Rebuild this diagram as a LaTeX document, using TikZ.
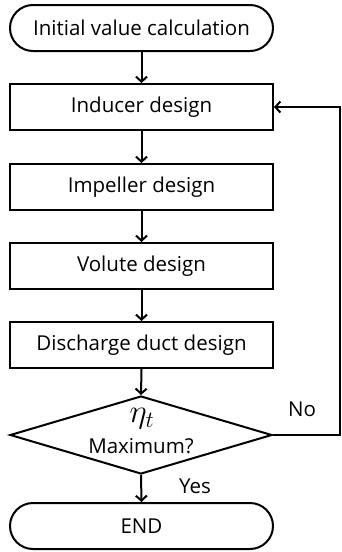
\documentclass[tikz,border=0pt]{standalone}
\usepackage{fix-cm}
\usepackage{fontspec}
\setmainfont{Open Sans}
\usetikzlibrary{arrows.meta}
\usetikzlibrary{shapes.geometric}
\usetikzlibrary{shapes.misc}
\usetikzlibrary{positioning}
\tikzset{
    flow arrow/.style={
        line width=2pt,
        -{Straight Barb[length=5pt,width=11pt,line width=2pt]},
    },
    loop arrow/.style={
        line width=1.2pt,
        -{Straight Barb[length=5pt,width=11pt,line width=2pt]},
    },
    design step/.style={
        draw,
        line width=2pt,
        rectangle,
        minimum width=263pt,
        minimum height=46pt,
        inner sep=0,
        font=\fontsize{20.5}{22}\selectfont,
    },
    terminal/.style={
        design step,
        rounded rectangle,
    },
    decision/.style={
        draw,
        line width=2pt,
        diamond,
        minimum width=262pt,
        minimum height=78pt,
        inner sep=0,
    },
    answer/.style={
        font=\fontsize{20.5}{22}\selectfont,
        inner sep=0,
    },
}

\begin{document}
\begin{tikzpicture}[x=1pt,y=-1pt]

    \useasboundingbox (0,0) rectangle (341,552);

    \node[terminal] (start) at (141.5, 28) {Initial value calculation};
    \node[design step] (inducer) at (141.5, 107) {Inducer design};
    \node[design step] (impeller) at (141.5, 187) {Impeller design};
    \node[design step] (volute) at (141.5, 266) {Volute design};
    \node[design step] (discharge) at (141.5, 345) {Discharge duct design};
    \node[decision] (check) at (141, 435) {};
    \node[inner sep=0, font=\fontsize{33}{33}\selectfont] (eta) at (142, 419) {$\eta_t$};
    \node[answer] (maxq) at (141, 446) {Maximum?};
    \node[terminal] (stop) at (141.5, 526) {END};

    \draw[flow arrow] (start) -- (inducer);
    \draw[flow arrow] (inducer) -- (impeller);
    \draw[flow arrow] (impeller) -- (volute);
    \draw[flow arrow] (volute) -- (discharge);
    \draw[flow arrow] (discharge.south) -- (check.north);
    \draw[flow arrow] (check.south) -- (stop.north);

    % back to the inducer when not yet at the maximum
    \coordinate (back) at (340, 107);
    \draw[loop arrow] (check.east) -| (back) -- (inducer.east);

    \node[answer] (no) at (302, 409) {No};
    \node[answer] (yes) at (195, 486) {Yes};

\end{tikzpicture}
\end{document}
